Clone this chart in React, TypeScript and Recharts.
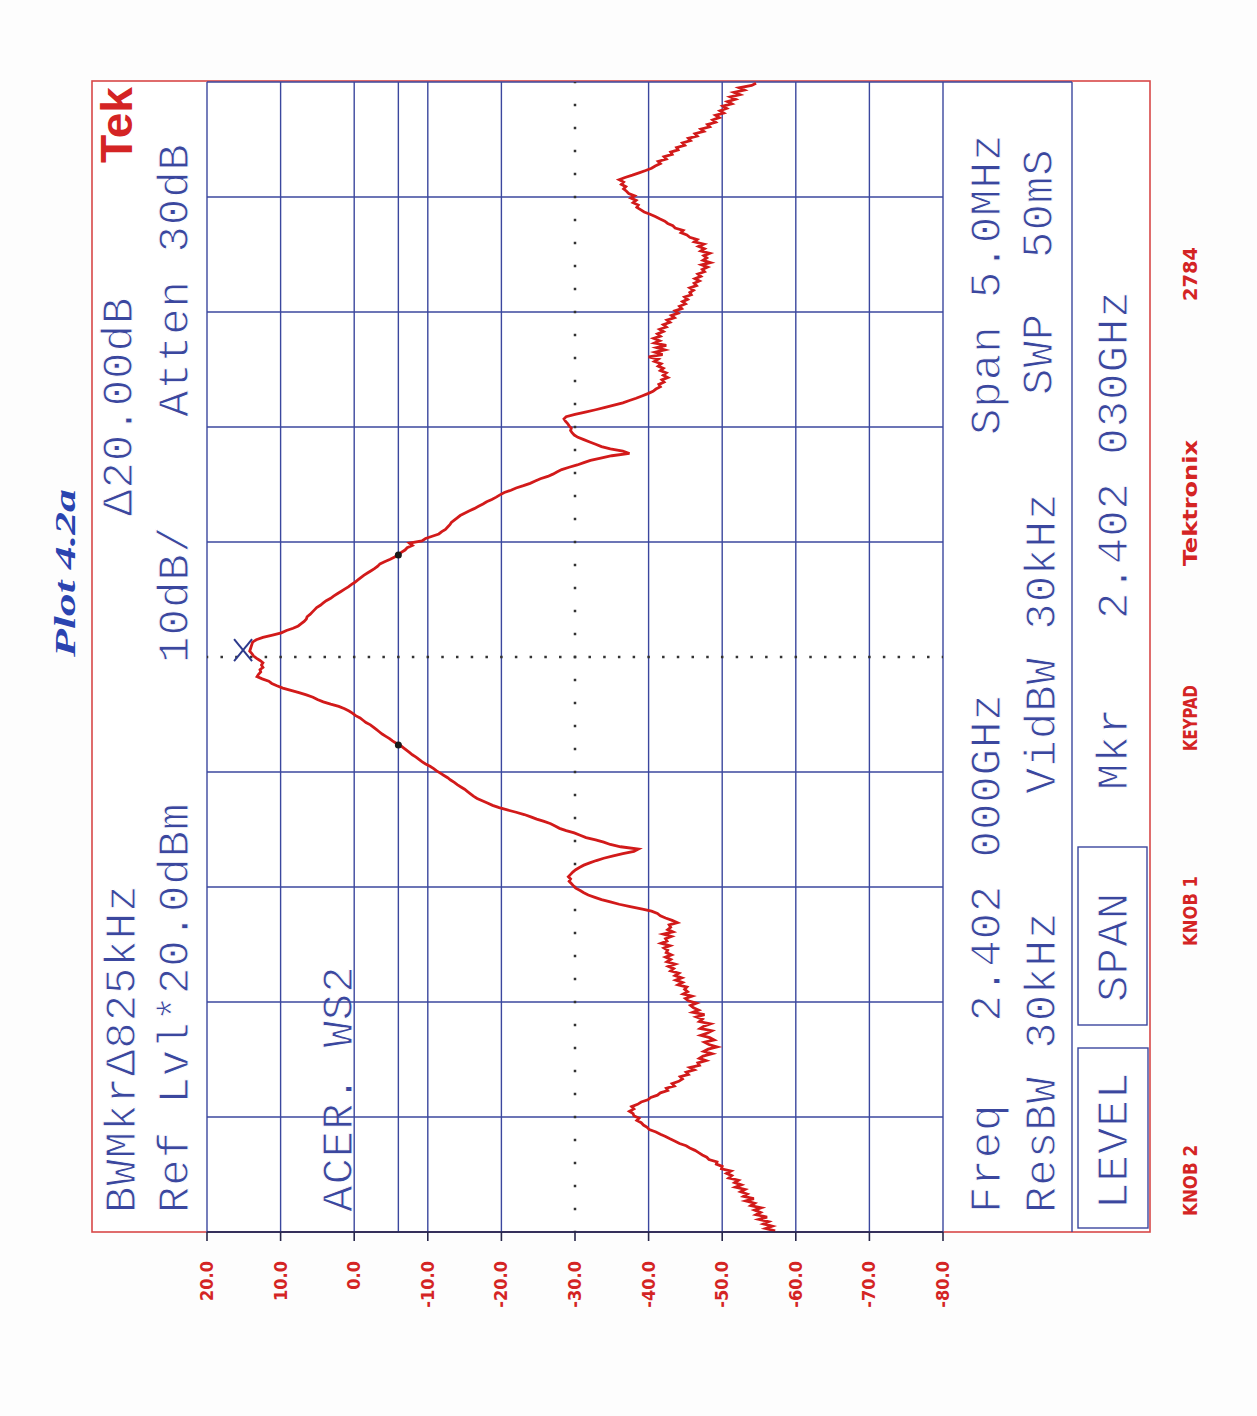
import React from 'react';
import { LineChart, Line, XAxis, YAxis, ReferenceLine, ReferenceDot } from 'recharts';

// ---- sweep data: measured level (dBm) per 0.01 MHz bin, one array per 0.5 MHz division ----
const spanStartMHz = -2.5; // offset from centre 2.402 000 GHz
const divisionMHz = 0.5;
const binStepMHz = 0.01;

const div0Dbm = [-57.2, -55.9, -56.8, -55.6, -56.3, -55.0, -56.1, -54.6, -55.2, -54.4, -55.3, -53.9, -54.4, -53.2, -54.3, -52.9, -53.4, -52.5, -53.1, -51.8, -52.6, -51.7, -52.2, -50.9, -51.3, -50.6, -51.2, -49.9, -50.0, -49.2, -49.3, -48.2, -47.9, -47.3, -46.8, -46.3, -45.6, -45.1, -44.2, -43.6, -42.9, -42.3, -41.6, -41.0, -40.1, -39.8, -39.3, -39.0, -38.4, -38.7];
const div1Dbm = [-38.0, -37.9, -37.4, -38.0, -37.7, -38.5, -39.0, -39.9, -40.3, -41.2, -41.6, -42.6, -42.4, -43.5, -43.2, -44.1, -44.6, -44.3, -45.4, -45.1, -46.2, -45.6, -46.9, -46.7, -47.8, -46.9, -47.4, -48.6, -47.5, -48.1, -49.3, -48.2, -47.6, -48.9, -48.3, -47.1, -48.0, -48.6, -47.0, -47.5, -48.4, -46.9, -47.3, -46.5, -47.6, -46.0, -46.8, -46.1, -45.7, -46.5];
const div2Dbm = [-45.4, -45.0, -45.9, -44.7, -45.3, -44.9, -45.2, -44.0, -44.6, -43.7, -44.5, -43.6, -44.1, -43.0, -43.4, -42.7, -43.6, -42.5, -43.0, -42.3, -43.1, -42.4, -42.6, -42.1, -42.9, -41.7, -42.5, -42.3, -43.1, -42.0, -43.3, -42.6, -43.0, -42.8, -43.9, -43.2, -42.3, -41.6, -41.2, -40.4, -39.0, -37.5, -36.0, -34.8, -33.6, -32.7, -31.8, -31.2, -30.7, -30.1];
const div3Dbm = [-29.8, -29.5, -29.2, -29.4, -29.1, -29.4, -29.7, -30.1, -30.6, -31.2, -32.0, -32.9, -33.9, -35.2, -36.5, -38.0, -38.6, -36.2, -34.8, -33.9, -32.8, -31.5, -30.7, -29.9, -28.8, -27.9, -27.3, -26.7, -25.8, -24.8, -24.0, -23.1, -22.0, -20.8, -19.7, -18.8, -18.1, -17.4, -16.7, -16.2, -15.8, -15.4, -15.0, -14.5, -14.0, -13.6, -13.1, -12.7, -12.2, -11.7];
const div4Dbm = [-11.2, -10.8, -10.3, -9.7, -9.2, -8.8, -8.4, -7.9, -7.5, -7.1, -6.7, -6.3, -5.7, -5.2, -4.8, -4.3, -3.8, -3.4, -3.0, -2.6, -2.2, -1.6, -1.2, -0.8, -0.2, 0.2, 0.7, 1.3, 2.1, 3.2, 4.2, 5.0, 5.6, 6.5, 7.5, 8.6, 9.7, 10.5, 11.2, 11.6, 12.5, 13.2, 13.0, 12.7, 12.8, 12.4, 12.6, 12.4, 12.8, 13.3];
const div5Dbm = [13.7, 13.9, 14.2, 14.1, 14.0, 13.9, 13.8, 13.3, 12.4, 11.1, 9.9, 9.2, 8.3, 7.6, 7.2, 6.8, 6.5, 6.4, 6.0, 5.7, 5.4, 5.1, 4.6, 4.2, 3.8, 3.2, 2.8, 2.3, 1.8, 1.3, 0.8, 0.4, -0.1, -0.5, -0.9, -1.3, -1.8, -2.3, -2.8, -3.2, -3.5, -4.2, -4.9, -5.5, -6.0, -6.4, -6.9, -7.2, -7.9, -7.5];
const div6Dbm = [-9.2, -9.7, -10.6, -11.5, -11.9, -12.4, -12.7, -13.0, -13.2, -13.6, -14.0, -14.4, -15.0, -15.6, -16.3, -16.9, -17.5, -18.0, -18.7, -19.3, -19.8, -20.4, -21.3, -22.0, -23.0, -23.9, -24.6, -25.3, -26.3, -27.0, -27.6, -28.2, -29.2, -30.3, -31.2, -32.1, -33.5, -35.0, -37.4, -36.5, -34.8, -33.6, -32.8, -32.0, -31.2, -30.4, -29.9, -29.6, -29.4, -29.5];
const div7Dbm = [-29.2, -29.0, -28.7, -28.5, -28.8, -30.0, -31.4, -32.8, -34.1, -35.3, -36.5, -37.4, -38.3, -39.1, -39.9, -40.6, -41.0, -41.6, -41.4, -42.1, -41.8, -42.6, -42.0, -42.4, -41.6, -42.0, -41.3, -41.7, -40.8, -41.3, -40.0, -41.9, -40.9, -42.2, -41.1, -42.4, -40.8, -41.5, -40.7, -41.6, -41.2, -42.0, -41.5, -42.4, -42.0, -42.9, -42.5, -43.5, -43.1, -44.0];
const div8Dbm = [-43.6, -44.5, -44.2, -45.0, -44.6, -45.3, -44.9, -45.8, -45.6, -46.1, -45.6, -46.5, -46.2, -46.9, -46.3, -47.1, -46.7, -47.6, -47.3, -48.0, -47.2, -48.4, -47.4, -47.9, -47.5, -48.3, -47.1, -47.6, -46.8, -47.5, -46.2, -46.6, -45.6, -45.2, -44.4, -44.7, -43.6, -43.3, -42.6, -42.2, -41.5, -40.9, -40.2, -39.4, -38.9, -38.4, -38.6, -37.9, -38.3, -37.6];
const div9Dbm = [-38.1, -37.3, -37.0, -36.6, -36.9, -36.3, -36.6, -36.0, -36.8, -37.8, -38.7, -39.6, -40.4, -40.9, -41.6, -41.3, -42.4, -42.1, -43.2, -43.0, -44.0, -43.8, -44.9, -44.6, -45.7, -45.4, -46.6, -46.3, -47.5, -47.1, -48.3, -48.0, -49.1, -48.7, -49.6, -49.1, -50.2, -49.7, -50.6, -50.1, -51.3, -50.7, -51.8, -51.1, -52.4, -51.6, -53.0, -52.3, -54.0, -54.6];

const divisionLevels = [div0Dbm, div1Dbm, div2Dbm, div3Dbm, div4Dbm, div5Dbm, div6Dbm, div7Dbm, div8Dbm, div9Dbm];

// axes
const levelTicksDbm = [20, 10, 0, -10, -20, -30, -40, -50, -60, -70, -80];
const freqGridMHz = [-2.5, -2.0, -1.5, -1.0, -0.5, 0, 0.5, 1.0, 1.5, 2.0, 2.5];
const dottedLevelDbm = -30;
const centreFreqMHz = 0;
const bwLineDbm = -6.0;

// markers
const peakMarker = { f: 0.03, dbm: 15.1 };
const bwMarkers = [
  { f: -0.383, dbm: -6.0 },
  { f: 0.443, dbm: -6.0 },
];

const sweep = divisionLevels.flatMap((arr, k) =>
  arr.map((dbm, i) => ({
    f: +(spanStartMHz + divisionMHz * k + (i + 0.5) * binStepMHz).toFixed(3),
    dbm,
  }))
);

// ---- text ----
const panelLabels = [
  { text: 'BWMkrΔ825kHz', x: 135, y: 1213, n: 12 },
  { text: 'Ref Lvl*20.0dBm', x: 188, y: 1213, n: 15 },
  { text: '10dB/', x: 188, y: 663, n: 5 },
  { text: 'Δ20.00dB', x: 132, y: 516, n: 8 },
  { text: 'Atten 30dB', x: 188, y: 417, n: 10 },
  { text: 'ACER. WS2', x: 352, y: 1212, n: 9 },
  { text: 'Freq   2.402 000GHz', x: 1000, y: 1213, n: 19 },
  { text: 'ResBW 30kHz', x: 1055, y: 1213, n: 11 },
  { text: 'VidBW 30kHz', x: 1055, y: 794, n: 11 },
  { text: 'Span 5.0MHz', x: 1000, y: 435, n: 11 },
  { text: 'SWP  50mS', x: 1052, y: 395, n: 9 },
  { text: 'Mkr', x: 1127, y: 790, n: 3 },
  { text: '2.402 030GHz', x: 1127, y: 619, n: 12 },
  { text: 'SPAN', x: 1127, y: 1002, n: 4 },
  { text: 'LEVEL', x: 1127, y: 1209, n: 5 },
];

const footerLabels = [
  { text: 'KNOB 2', x: 1197, y: 1216, len: 71 },
  { text: 'KNOB 1', x: 1197, y: 946, len: 70 },
  { text: 'KEYPAD', x: 1197, y: 751, len: 66 },
  { text: 'Tektronix', x: 1197, y: 566, len: 126 },
  { text: '2784', x: 1197, y: 301, len: 54 },
];

const BLUE = '#3b479e';
const RED = '#d42424';
const TRACE = '#d21a1a';
const ADV = 27.3;

const rot = (x: number, y: number) => `rotate(-90 ${x} ${y})`;

const LevelTick = (props: any) => {
  const { x, y, payload } = props;
  const tx = x + 6;
  const ty = y + 20;
  return (
    <text
      x={tx}
      y={ty}
      transform={rot(tx, ty)}
      textAnchor="end"
      fill={RED}
      fontFamily="'DejaVu Sans Condensed', 'DejaVu Sans', sans-serif"
      fontWeight="bold"
      fontSize={18}
    >
      {Number(payload.value).toFixed(1)}
    </text>
  );
};

const XMark = (props: any) => {
  const { cx, cy } = props;
  if (cx == null || cy == null) return null;
  return (
    <g stroke="#2d3a8c" strokeWidth={2}>
      <line x1={cx - 9} y1={cy - 11} x2={cx + 9} y2={cy + 11} />
      <line x1={cx - 9} y1={cy + 11} x2={cx + 9} y2={cy - 11} />
    </g>
  );
};

const Background = () => (
  <svg width={1257} height={1416} style={{ position: 'absolute', left: 0, top: 0 }}>
    <rect x={0} y={0} width={1257} height={1416} fill="#fdfdfd" />
    <rect x={92} y={81} width={1058} height={1151} fill="#fff" stroke="#d84848" strokeWidth={1.6} />
    <line x1={943} y1={82} x2={1072} y2={82} stroke={BLUE} strokeWidth={1.6} />
    <line x1={1072} y1={82} x2={1072} y2={1232} stroke={BLUE} strokeWidth={1.4} />
    <rect x={1078} y={847} width={69} height={178} fill="none" stroke={BLUE} strokeWidth={1.4} />
    <rect x={1078} y={1048} width={70} height={180} fill="none" stroke={BLUE} strokeWidth={1.4} />
    {panelLabels.map((l) => (
      <text
        key={l.text}
        x={l.x}
        y={l.y}
        transform={rot(l.x, l.y)}
        textLength={l.n * ADV}
        lengthAdjust="spacing"
        fill={BLUE}
        stroke="#fff"
        strokeWidth={1}
        fontFamily="'Liberation Mono', 'DejaVu Sans Mono', monospace"
        fontSize={44}
        style={{ whiteSpace: 'pre' }}
      >
        {l.text}
      </text>
    ))}
    {footerLabels.map((l) => (
      <text
        key={l.text}
        x={l.x}
        y={l.y}
        transform={rot(l.x, l.y)}
        textLength={l.len}
        lengthAdjust="spacingAndGlyphs"
        fill={RED}
        fontFamily="'DejaVu Sans Condensed', 'DejaVu Sans', sans-serif"
        fontWeight="bold"
        fontSize={19}
        style={{ whiteSpace: 'pre' }}
      >
        {l.text}
      </text>
    ))}
    <text
      x={132}
      y={163}
      transform={rot(132, 163)}
      textLength={76}
      lengthAdjust="spacingAndGlyphs"
      fill={RED}
      fontFamily="'Liberation Sans', Arial, sans-serif"
      fontWeight="bold"
      fontSize={44}
    >
      Tek
    </text>
    <text
      x={75}
      y={657}
      transform={rot(75, 657)}
      textLength={168}
      lengthAdjust="spacingAndGlyphs"
      fill="#2a44b0"
      fontFamily="'Liberation Serif', 'DejaVu Serif', serif"
      fontStyle="italic"
      fontWeight="bold"
      fontSize={30}
    >
      Plot 4.2a
    </text>
  </svg>
);

export default function App() {
  return (
    <div style={{ position: 'absolute', left: 0, top: 0, width: 1257, height: 1416 }}>
      <Background />
      <div style={{ position: 'absolute', left: 0, top: 0 }}>
        <LineChart
          width={1257}
          height={1416}
          layout="vertical"
          data={sweep}
          margin={{ top: 82, right: 314, bottom: 104, left: 207 }}
        >
          <XAxis
            type="number"
            domain={[-80, 20]}
            ticks={levelTicksDbm}
            interval={0}
            reversed
            allowDataOverflow
            height={80}
            tickSize={9}
            tickMargin={0}
            tick={LevelTick}
            axisLine={{ stroke: '#26264a', strokeWidth: 1.6 }}
            tickLine={{ stroke: '#26264a', strokeWidth: 1.6 }}
          />
          <YAxis type="number" dataKey="f" domain={[-2.5, 2.5]} hide reversed allowDataOverflow />
          {levelTicksDbm
            .filter((v) => v !== dottedLevelDbm)
            .map((v) => (
              <ReferenceLine key={'x' + v} x={v} stroke={BLUE} strokeWidth={1.4} />
            ))}
          <ReferenceLine x={bwLineDbm} stroke={BLUE} strokeWidth={1.4} />
          {freqGridMHz
            .filter((v) => v !== centreFreqMHz)
            .map((v) => (
              <ReferenceLine key={'y' + v} y={v} stroke={BLUE} strokeWidth={1.4} />
            ))}
          <ReferenceLine
            x={dottedLevelDbm}
            stroke="#333"
            strokeWidth={2.5}
            strokeDasharray="2.5 20.5"
            strokeDashoffset={1.25}
          />
          <ReferenceLine
            y={centreFreqMHz}
            stroke="#333"
            strokeWidth={2.5}
            strokeDasharray="2.5 12.22"
            strokeDashoffset={1.25}
          />
          <Line
            type="linear"
            dataKey="dbm"
            stroke={TRACE}
            strokeWidth={2.8}
            dot={false}
            isAnimationActive={false}
          />
          {bwMarkers.map((m) => (
            <ReferenceDot key={m.f} x={m.dbm} y={m.f} r={3.5} fill="#1a1a1a" stroke="none" />
          ))}
          <ReferenceDot x={peakMarker.dbm} y={peakMarker.f} r={9} shape={XMark} />
        </LineChart>
      </div>
    </div>
  );
}
